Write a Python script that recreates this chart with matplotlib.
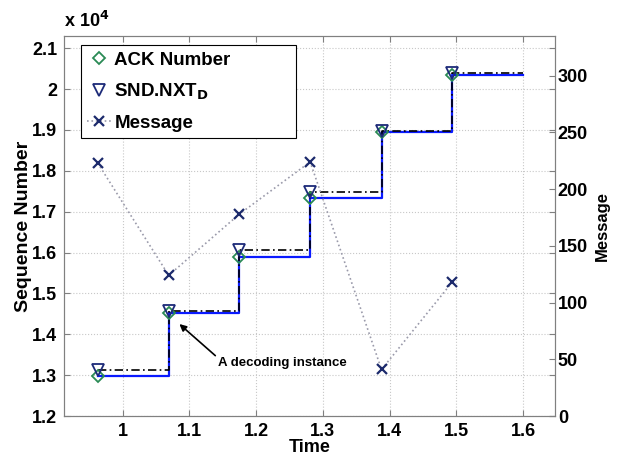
import numpy as np
import matplotlib.pyplot as plt

plt.rcParams['font.family'] = ['Liberation Sans', 'DejaVu Sans']
plt.rcParams['font.weight'] = 'bold'

# data
step_time = [0.9625, 1.069, 1.175, 1.281, 1.388, 1.494]
end_time = 1.6
ack_num = [12975, 14525, 15900, 17330, 18950, 20350]
snd_nxt = [13125, 14570, 16060, 17480, 18970, 20390]
msg_val = [223, 124, 178, 224, 41, 118]

spine_col = '#808080'
grid_col = '#c8c8c8'

fig = plt.figure(figsize=(6.17, 4.55), dpi=100)
ax1 = fig.add_axes([0.1037, 0.0857, 0.7958, 0.8353])
ax2 = ax1.twinx()

t_line = step_time + [end_time]
ax1.step(t_line, ack_num + [ack_num[-1]], where='post', color='#0a1aff', lw=1.6, zorder=2)
ax1.step(t_line, snd_nxt + [snd_nxt[-1]], where='post', color='black', lw=1.2,
         linestyle=(0, (5, 2, 1, 2)), zorder=3)
h_ack, = ax1.plot(step_time, ack_num, linestyle='none', marker='D', ms=6.5,
                  mfc='none', mec='#2a8a55', mew=1.3, zorder=4, label='ACK Number')
h_snd, = ax1.plot(step_time, snd_nxt, linestyle='none', marker='v', ms=8,
                  mfc='none', mec='#1c2a78', mew=1.3, zorder=4, label=r'SND.NXT$_\mathbf{D}$')

h_msg, = ax2.plot(step_time, msg_val, linestyle=':', color='#9a9aaa', lw=1.2,
                  marker='x', ms=7, mec='#1c2a6c', mew=1.6, label='Message')

ax1.set_xlim(0.912, 1.648)
ax1.set_ylim(12000, 21300)
ax2.set_ylim(0, 335)
ax1.set_xticks([1, 1.1, 1.2, 1.3, 1.4, 1.5, 1.6])
ax1.set_xticklabels(['1', '1.1', '1.2', '1.3', '1.4', '1.5', '1.6'])
yt = np.arange(12000, 21001, 1000)
ax1.set_yticks(yt)
ax1.set_yticklabels(['%g' % (v / 1e4) for v in yt])
ax2.set_yticks([0, 50, 100, 150, 200, 250, 300])

ax1.grid(True, color=grid_col, linestyle=':', lw=0.8)
ax1.set_axisbelow(True)

for ax in (ax1, ax2):
    for s in ax.spines.values():
        s.set_color(spine_col)
    ax.tick_params(direction='in', labelsize=13, color=spine_col, length=4)
ax1.tick_params(top=True, right=True)
ax1.tick_params(axis='x', pad=5)
ax1.tick_params(axis='y', pad=5)
ax2.tick_params(pad=2)

ax1.text(0.0, 1.012, r'x 10$^\mathbf{4}$', transform=ax1.transAxes, fontsize=13,
         fontweight='bold', ha='left', va='bottom')

ax1.set_xlabel('Time', fontsize=13, fontweight='bold', labelpad=-0.5)
ax1.set_ylabel('Sequence Number', fontsize=14, fontweight='bold', labelpad=0)
ax2.set_ylabel('Message', fontsize=12, fontweight='bold', labelpad=5)

ax1.annotate('A decoding instance', xy=(1.085, 14250), xytext=(1.143, 13300),
             fontsize=9.5, fontweight='bold', va='center', ha='left',
             arrowprops=dict(arrowstyle='-|>', color='black', lw=1.2,
                             shrinkA=0, shrinkB=0, mutation_scale=10,
                             relpos=(0, 0.9)))

leg = ax2.legend(handles=[h_ack, h_snd, h_msg], loc='upper left',
                 bbox_to_anchor=(0.034, 0.0, 0.4385, 0.976), mode='expand',
                 borderaxespad=0, fontsize=13.5, frameon=True,
                 fancybox=False, edgecolor='black', framealpha=1,
                 handlelength=1.3, handletextpad=0.15, borderpad=0.35,
                 labelspacing=0.68)
leg.get_frame().set_linewidth(0.8)
leg.set_zorder(10)

fig.savefig('out.png', dpi=100)
